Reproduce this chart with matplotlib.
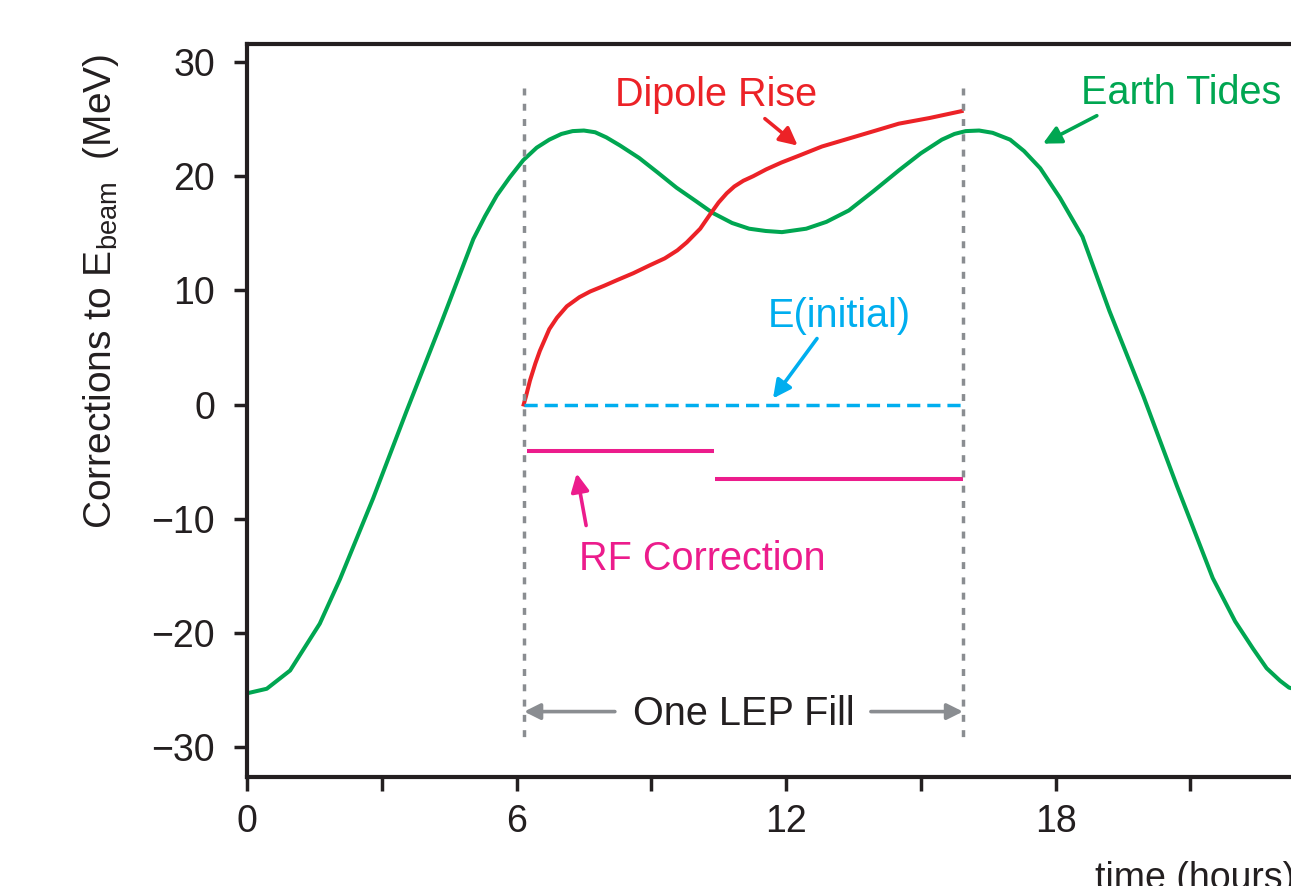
import matplotlib.pyplot as plt

plt.rcParams['font.family'] = ['Liberation Sans', 'DejaVu Sans']
plt.rcParams['mathtext.fontset'] = 'custom'
plt.rcParams['mathtext.rm'] = 'Liberation Sans'
plt.rcParams['mathtext.it'] = 'Liberation Sans'

# Earth tides correction over one day (hours, MeV)
tide_t = [0, 0.44, 0.96, 1.62, 2.07, 2.81, 3.55, 4.30, 5.04, 5.3, 5.56, 5.85,
          6.15, 6.45, 6.73, 7.0, 7.25, 7.5, 7.75, 8.0, 8.3, 8.73, 9.15, 9.56,
          10.0, 10.36, 10.8, 11.18, 11.55, 11.91, 12.45, 12.9, 13.4, 13.95,
          14.51, 15.0, 15.47, 15.75, 16.0, 16.3, 16.6, 16.99, 17.3, 17.66,
          18.1, 18.6, 19.2, 19.96, 20.7, 21.5, 22.0, 22.4, 22.7, 23.0, 23.2,
          23.6, 24.0]
tide_e = [-25.3, -24.9, -23.3, -19.2, -15.3, -8.2, -0.6, 6.9, 14.5, 16.5, 18.3, 19.9,
          21.4, 22.5, 23.2, 23.7, 23.95, 24.0, 23.85, 23.4, 22.7, 21.6, 20.3, 19.0,
          17.8, 16.8, 15.9, 15.4, 15.2, 15.1, 15.4, 16.0, 17.0, 18.7,
          20.5, 22.0, 23.2, 23.7, 23.95, 24.0, 23.8, 23.2, 22.2, 20.7,
          18.1, 14.7, 8.2, 0.7, -7.1, -15.2, -19.0, -21.4, -23.1, -24.2, -24.8,
          -25.2, -25.3]

# Dipole rise during the fill
dip_t = [6.16, 6.21, 6.3, 6.42, 6.52, 6.73, 6.9, 7.12, 7.4, 7.64, 7.95, 8.24,
         8.6, 8.97, 9.3, 9.58, 9.79, 10.09, 10.3, 10.5, 10.68, 10.85, 11.05,
         11.27, 11.56, 11.9, 12.29, 12.8, 13.4, 14.0, 14.51, 15.2, 15.91]
dip_e = [0.0, 0.7, 2.1, 3.6, 4.7, 6.6, 7.6, 8.6, 9.4, 9.9, 10.4, 10.9,
         11.5, 12.2, 12.8, 13.5, 14.2, 15.4, 16.6, 17.7, 18.5, 19.1, 19.6,
         20.0, 20.6, 21.2, 21.8, 22.6, 23.3, 24.0, 24.6, 25.1, 25.7]

# RF correction steps: (start, end, value)
rf_steps = [(6.24, 10.40, -4.1), (10.42, 15.93, -6.5)]

# start / end of the fill
fill_start = 6.16
fill_end = 15.93
e_initial = 0.0

yticks = [-30, -20, -10, 0, 10, 20, 30]
ytick_labels = ['\u221230', '\u221220', '\u221210', '0', '10', '20', '30']
xticks = [0, 6, 12, 18]

red = '#ec2227'
green = '#00a651'
cyan = '#00aeef'
magenta = '#ec1c8c'
gray = '#8a8d91'
dark = '#231f20'

fig = plt.figure(figsize=(12.91, 8.86), dpi=100)
ax = fig.add_axes([247 / 1291, 109 / 886, 1078 / 1291, 733 / 886])

ax.plot(tide_t, tide_e, color=green, lw=2.9)
ax.plot(dip_t, dip_e, color=red, lw=2.9)
ax.plot([fill_start, fill_end], [e_initial, e_initial], color=cyan, lw=2.5,
        linestyle=(0, (3.8, 2.0)))
for t0, t1, v in rf_steps:
    ax.plot([t0, t1], [v, v], color=magenta, lw=2.9, solid_capstyle='butt')

for xv in (fill_start, fill_end):
    ax.plot([xv, xv], [27.7, -29.3], color=gray, lw=2.5, linestyle=(0, (2.0, 2.4)))

# arrows pointing from the labels to the curves
def arrow(xy, xytext, color, ms=27):
    ax.annotate('', xy=xy, xytext=xytext,
                arrowprops=dict(arrowstyle='-|>', color=color, lw=2.6,
                                mutation_scale=ms, shrinkA=0, shrinkB=0))

fs = 28.5
ax.text(10.44, 26.18, 'Dipole Rise', color=red, fontsize=fs, ha='center', va='baseline')
arrow((12.26, 22.68), (11.53, 25.04), red)
ax.text(20.8, 26.33, 'Earth Tides', color=green, fontsize=fs, ha='center', va='baseline')
arrow((17.72, 22.85), (18.92, 25.3), green)
ax.text(13.18, 6.77, 'E(initial)', color=cyan, fontsize=fs, ha='center', va='baseline')
arrow((11.71, 0.53), (12.69, 5.78), cyan)
ax.text(10.13, -14.54, 'RF Correction', color=magenta, fontsize=fs, ha='center', va='baseline')
arrow((7.34, -6.04), (7.55, -10.6), magenta)

ax.text(11.05, -28.1, 'One LEP Fill', color=dark, fontsize=fs, ha='center', va='baseline')
arrow((6.17, -26.9), (8.19, -26.9), gray, ms=24)
arrow((15.94, -26.9), (13.89, -26.9), gray, ms=24)

ax.set_xlim(0, 24)
ax.set_ylim(-32.63, 31.58)
ax.set_xticks(xticks)
ax.set_xticks([3, 9, 15, 21], minor=True)
ax.set_yticks(yticks)
ax.set_yticklabels(ytick_labels)
ax.tick_params(axis='both', which='both', direction='out', width=2.5, color=dark,
               labelsize=27, labelcolor=dark)
ax.tick_params(axis='y', length=9.4, pad=13.5)
ax.tick_params(axis='x', which='both', length=10, pad=9.5)
for side in ('left', 'top', 'bottom'):
    ax.spines[side].set_linewidth(3.0)
    ax.spines[side].set_color(dark)
ax.spines['right'].set_visible(False)

fig.text(101 / 1291, 1 - 291 / 886, 'Corrections to E$_{\\mathrm{beam}}$  (MeV)',
         rotation=90, ha='center', va='center', fontsize=28, color=dark)
fig.text(1095 / 1291, -3 / 886, 'time (hours)', ha='left', va='baseline',
         fontsize=27, color=dark)

fig.savefig('out.png', dpi=100)
